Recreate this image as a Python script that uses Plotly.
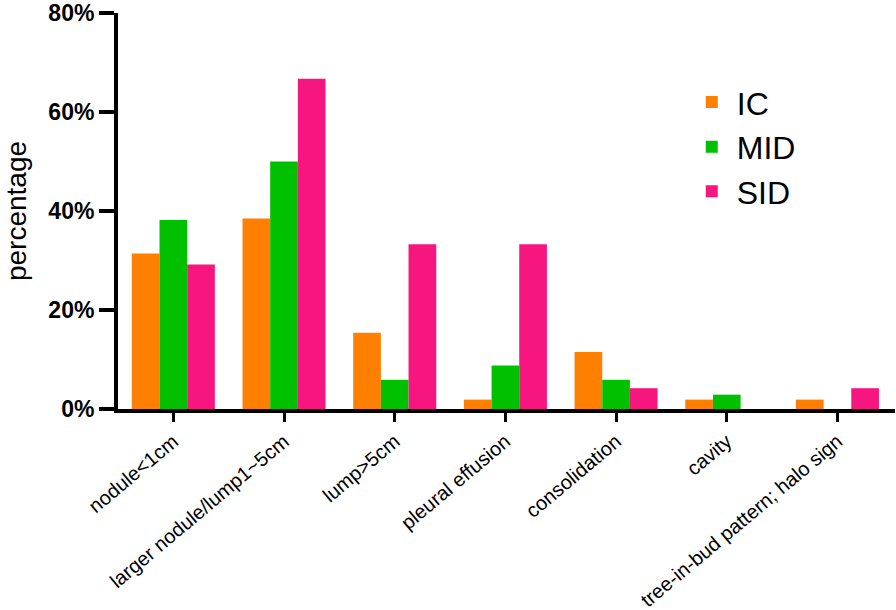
import plotly.graph_objects as go

categories = ["nodule<1cm", "larger nodule/lump1~5cm", "lump>5cm", "pleural effusion",
              "consolidation", "cavity", "tree-in-bud pattern; halo sign"]
ic = [31.4, 38.5, 15.4, 1.9, 11.5, 1.9, 1.9]
mid = [38.2, 50.0, 5.9, 8.8, 5.9, 2.9, 0]
sid = [29.2, 66.7, 33.3, 33.3, 4.2, 0, 4.2]
series_names = ["IC", "MID", "SID"]
colors = ["#FF7F00", "#00C000", "#F7157F"]
y_ticks = [0, 20, 40, 60, 80]
y_tick_labels = ["0%", "20%", "40%", "60%", "80%"]

fig = go.Figure()
for name, vals, col in zip(series_names, [ic, mid, sid], colors):
    fig.add_trace(go.Bar(x=list(range(len(categories))), y=vals, name=name,
                         marker=dict(color=col, line=dict(width=0))))

fig.update_layout(
    width=896, height=610,
    margin=dict(l=118, r=1, t=13, b=201, autoexpand=False),
    paper_bgcolor="white", plot_bgcolor="white",
    barmode="group", bargap=0.25, bargroupgap=0,
    font=dict(family="Liberation Sans, Arial, sans-serif", color="black"),
    showlegend=True,
    legend=dict(x=0.732, y=0.844, xanchor="left", yanchor="top",
                font=dict(size=32), bgcolor="rgba(0,0,0,0)", itemwidth=40),
    xaxis=dict(
        tickmode="array", tickvals=list(range(len(categories))), ticktext=categories,
        range=[-0.5, 6.52], tickangle=-40, automargin=False,
        showline=True, linecolor="black", linewidth=4,
        ticks="outside", ticklen=9, tickwidth=3, tickcolor="black",
        tickfont=dict(size=20), showgrid=False, zeroline=False,
    ),
    yaxis=dict(
        range=[0, 80], tickmode="array", tickvals=y_ticks,
        ticktext=["<b>" + t + "</b>" for t in y_tick_labels], automargin=False,
        ticklabeloverflow="allow",
        showline=True, linecolor="black", linewidth=4,
        ticks="outside", ticklen=15, tickwidth=4, tickcolor="black",
        tickfont=dict(size=23),
        showgrid=False, zeroline=False,
        title=dict(text="percentage", font=dict(size=28)),
    ),
)

fig.write_html("out.html", config={"displayModeBar": False},
               post_script="document.body.style.margin='0';document.body.style.overflow='hidden';")
